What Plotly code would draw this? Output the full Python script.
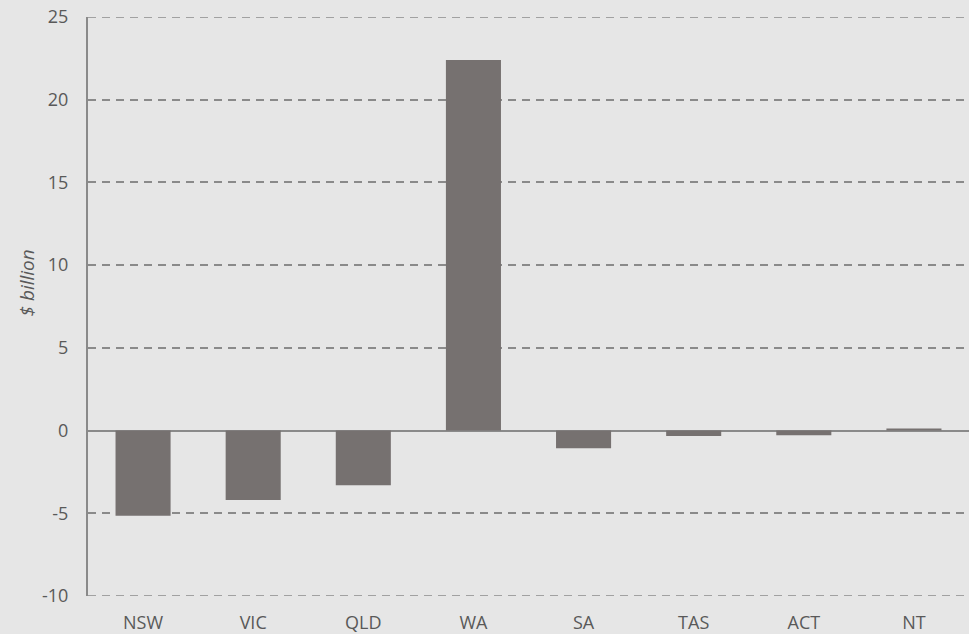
import plotly.graph_objects as go

states = ["NSW", "VIC", "QLD", "WA", "SA", "TAS", "ACT", "NT"]
values = [-5.15, -4.2, -3.3, 22.4, -1.07, -0.33, -0.29, 0.13]
y_ticks = [-10, -5, 0, 5, 10, 15, 20, 25]
y_tick_text = [str(v) for v in y_ticks]
y_title = "$ billion"

GRID = "#8a8a8a"
TXT = "#595959"
FONT = "Open Sans"

fig = go.Figure(go.Bar(
    x=states, y=values,
    marker=dict(color="#767170", line=dict(width=0)),
    width=0.5,
))

# edge gridlines (plotly hides gridlines lying on the plot border)
for v in (min(y_ticks), max(y_ticks)):
    fig.add_shape(type="line", xref="paper", yref="y", x0=0, x1=1, y0=v, y1=v,
                  line=dict(color=GRID, width=1.5, dash="8px,6px"), layer="below")

fig.add_annotation(
    text="<i>" + y_title + "</i>", xref="paper", yref="paper", x=0, y=0.5,
    xanchor="center", yanchor="middle", xshift=-62, yshift=23,
    textangle=-90, showarrow=False,
    font=dict(size=19, color=TXT, family=FONT),
)

fig.update_layout(
    width=969, height=634,
    margin=dict(l=88, r=0, t=17, b=38),
    paper_bgcolor="#e6e6e6", plot_bgcolor="#e6e6e6",
    showlegend=False,
    font=dict(family=FONT, color=TXT, size=18),
)
fig.update_xaxes(
    showgrid=False, showline=False, ticks="",
    tickfont=dict(size=18, color=TXT, family=FONT),
    zeroline=False, ticklabelstandoff=14,
)
fig.update_yaxes(
    range=[-10, 25], tickvals=y_ticks, ticktext=y_tick_text,
    showgrid=True, gridcolor=GRID, griddash="8px,6px", gridwidth=1.5,
    showline=True, linecolor=GRID, linewidth=2,
    zeroline=True, zerolinecolor=GRID, zerolinewidth=2,
    ticks="", ticklabelstandoff=14,
    tickfont=dict(size=18, color=TXT, family=FONT),
)
fig.write_html("out.html")
